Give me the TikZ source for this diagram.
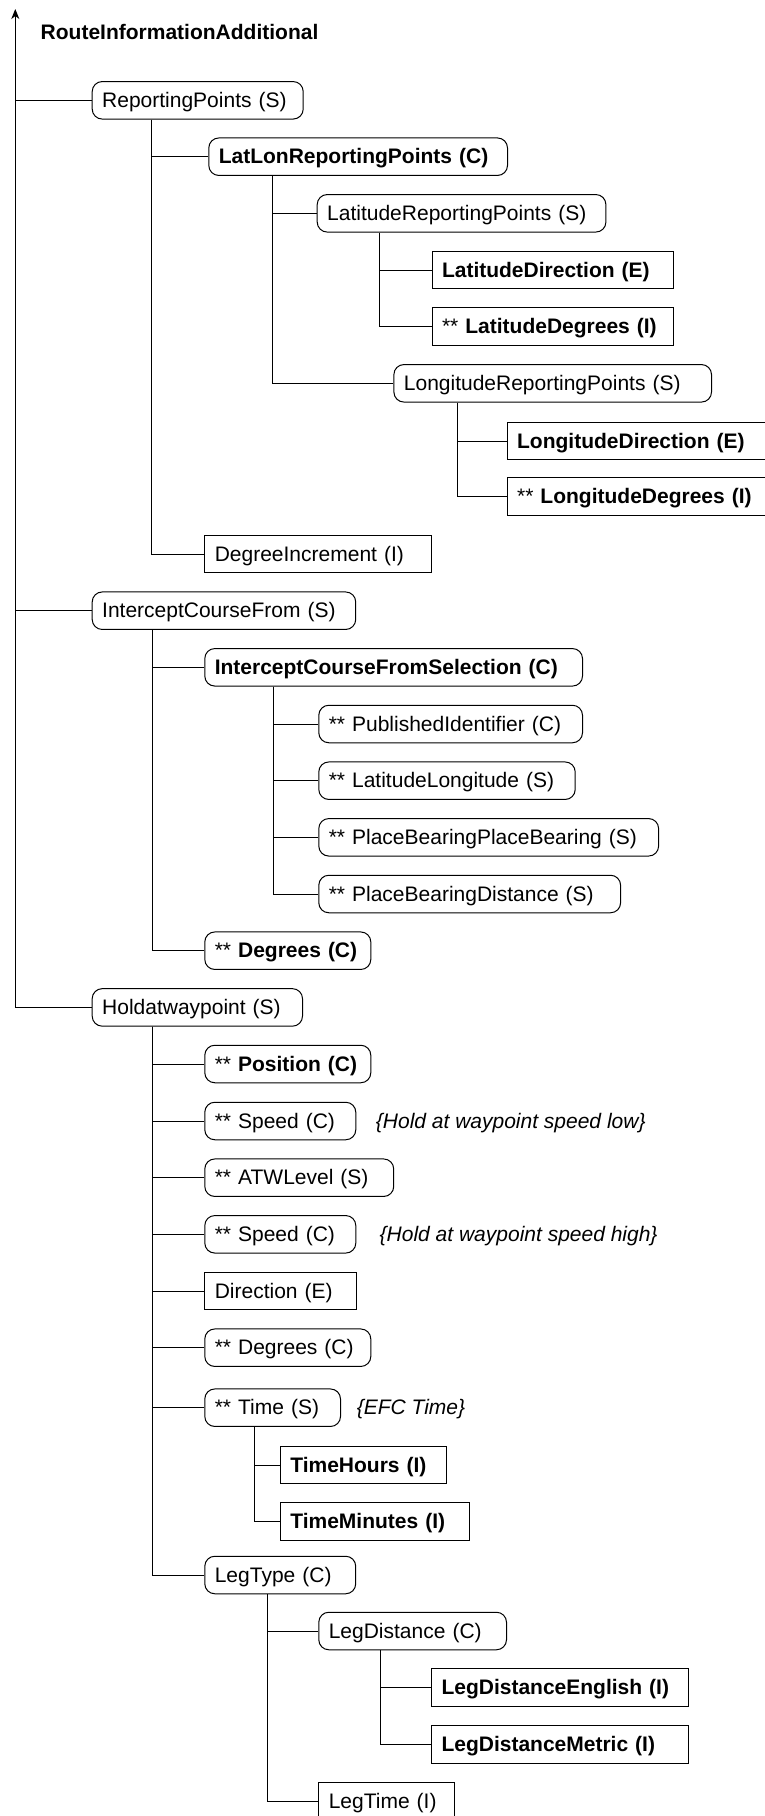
\documentclass[tikz,border=0pt]{standalone}
\usepackage{fontspec}
\setmainfont{Liberation Sans}
\usetikzlibrary{arrows.meta}

\tikzset{
  lbl/.style={font=\fontsize{21}{25}\selectfont, text height=15pt, text depth=1pt},
  box/.style={lbl, draw=black, line width=1pt, anchor=west, minimum height=37.5pt,
              inner xsep=10pt, inner ysep=0pt, align=left},
  rbox/.style={box, rounded corners=10pt},
  sbox/.style={box},
  note/.style={lbl, anchor=west, inner sep=0pt, font=\fontsize{21}{25}\selectfont\itshape},
  conn/.style={line width=1pt},
}

\begin{document}
\begin{tikzpicture}[x=1pt, y=-1pt]
\clip (0,0) rectangle (765,1816);

% root label
\node[lbl, font=\fontsize{21}{25}\selectfont\bfseries, anchor=base west, inner sep=0pt]
  (title) at (40.5,39.3) {RouteInformationAdditional};

% ---- ReportingPoints branch
\node[rbox, text width=191pt]   (rp)      at (91.7,100.3)  {ReportingPoints (S)};
\node[rbox, text width=278.7pt] (latlon)  at (208.3,156.7) {\textbf{LatLonReportingPoints (C)}};
\node[rbox, text width=268.7pt] (latrp)   at (316.7,213.3) {LatitudeReportingPoints (S)};
\node[sbox, text width=221.8pt] (latdir)  at (431.5,270)   {\textbf{LatitudeDirection (E)}};
\node[sbox, text width=221.8pt] (latdeg)  at (431.5,326.7) {** \textbf{LatitudeDegrees (I)}};
\node[rbox, text width=297.6pt] (longrp)  at (393.4,383.3) {LongitudeReportingPoints (S)};
\node[sbox, text width=270pt]   (longdir) at (506.6,441)   {\textbf{LongitudeDirection (E)}};
\node[sbox, text width=270pt]   (longdeg) at (506.6,496.7) {** \textbf{LongitudeDegrees (I)}};
\node[sbox, text width=207pt]   (deginc)  at (204.3,554)   {DegreeIncrement (I)};

% ---- InterceptCourseFrom branch
\node[rbox, text width=243.5pt] (icf)     at (91.7,610.7)  {InterceptCourseFrom (S)};
\node[rbox, text width=357.7pt] (icfs)    at (204.3,667.3) {\textbf{InterceptCourseFromSelection (C)}};
\node[rbox, text width=243.7pt] (pubid)   at (318.3,724)   {** PublishedIdentifier (C)};
\node[rbox, text width=236.4pt] (latlong) at (318.3,780.7) {** LatitudeLongitude (S)};
\node[rbox, text width=319.8pt] (pbpb)    at (318.3,837.3) {** PlaceBearingPlaceBearing (S)};
\node[rbox, text width=281.8pt] (pbd)     at (318.3,894)   {** PlaceBearingDistance (S)};
\node[rbox, text width=146pt]   (degA)    at (204.3,950.7) {** \textbf{Degrees (C)}};

% ---- Holdatwaypoint branch
\node[rbox, text width=190.3pt] (hold)    at (91.7,1007.4) {Holdatwaypoint (S)};
\node[rbox, text width=146pt]   (pos)     at (204.3,1064)  {** \textbf{Position (C)}};
\node[rbox, text width=131pt]   (spdlow)  at (204.3,1121)  {** Speed (C)};
\node[note] (notelow)  at (375.7,1121)  {\{Hold at waypoint speed low\}};
\node[rbox, text width=168.9pt] (atw)     at (204.3,1177.7) {** ATWLevel (S)};
\node[rbox, text width=131pt]   (spdhigh) at (204.3,1234.3) {** Speed (C)};
\node[note] (notehigh) at (379.5,1234.3) {\{Hold at waypoint speed high\}};
\node[sbox, text width=131.4pt] (dir)     at (204.3,1291)  {Direction (E)};
\node[rbox, text width=146pt]   (degB)    at (204.3,1347.7) {** Degrees (C)};
\node[rbox, text width=115.7pt] (time)    at (204.3,1407.7) {** Time (S)};
\node[note] (noteefc)  at (356.6,1407.7) {\{EFC Time\}};
\node[sbox, text width=146.6pt] (hours)   at (279.8,1465)  {\textbf{TimeHours (I)}};
\node[sbox, text width=169pt]   (minutes) at (279.8,1521.7) {\textbf{TimeMinutes (I)}};
\node[rbox, text width=130.9pt] (legtype) at (204.3,1575)  {LegType (C)};
\node[rbox, text width=167.7pt] (legdist) at (318.3,1631)  {LegDistance (C)};
\node[sbox, text width=237.4pt] (ldeng)   at (431,1687.7)  {\textbf{LegDistanceEnglish (I)}};
\node[sbox, text width=237.4pt] (ldmet)   at (431,1744.3)  {\textbf{LegDistanceMetric (I)}};
\node[sbox, text width=115.9pt] (legtime) at (318.3,1801)  {LegTime (I)};

% ---- trunk with arrow
\coordinate (tip)  at (15.3,9);
\coordinate (knee) at (15.3,80);
\draw[conn, -{Stealth[length=10pt, width=8pt, inset=3pt]}] (tip |- hold.west) -- (tip);
\draw[line width=1.6pt] (knee) -- (tip |- hold.west);
\draw[conn] (tip |- rp.west)   -- (rp.west);
\draw[conn] (tip |- icf.west)  -- (icf.west);
\draw[conn] (tip |- hold.west) -- (hold.west);

% ---- tree connectors
\foreach \c in {latlon, deginc}
  \draw[conn] ([xshift=60pt]rp.south west) |- (\c.west);
\foreach \c in {latrp, longrp}
  \draw[conn] ([xshift=63.7pt]latlon.south west) |- (\c.west);
\foreach \c in {latdir, latdeg}
  \draw[conn] ([xshift=62.3pt]latrp.south west) |- (\c.west);
\foreach \c in {longdir, longdeg}
  \draw[conn] ([xshift=63.6pt]longrp.south west) |- (\c.west);

\foreach \c in {icfs, degA}
  \draw[conn] ([xshift=60.3pt]icf.south west) |- (\c.west);
\foreach \c in {pubid, latlong, pbpb, pbd}
  \draw[conn] ([xshift=69pt]icfs.south west) |- (\c.west);

\foreach \c in {pos, spdlow, atw, spdhigh, dir, degB, time, legtype}
  \draw[conn] ([xshift=60.3pt]hold.south west) |- (\c.west);
\foreach \c in {hours, minutes}
  \draw[conn] ([xshift=50pt]time.south west) |- (\c.west);
\foreach \c in {legdist, legtime}
  \draw[conn] ([xshift=63.4pt]legtype.south west) |- (\c.west);
\foreach \c in {ldeng, ldmet}
  \draw[conn] ([xshift=62.4pt]legdist.south west) |- (\c.west);
\end{tikzpicture}
\end{document}
